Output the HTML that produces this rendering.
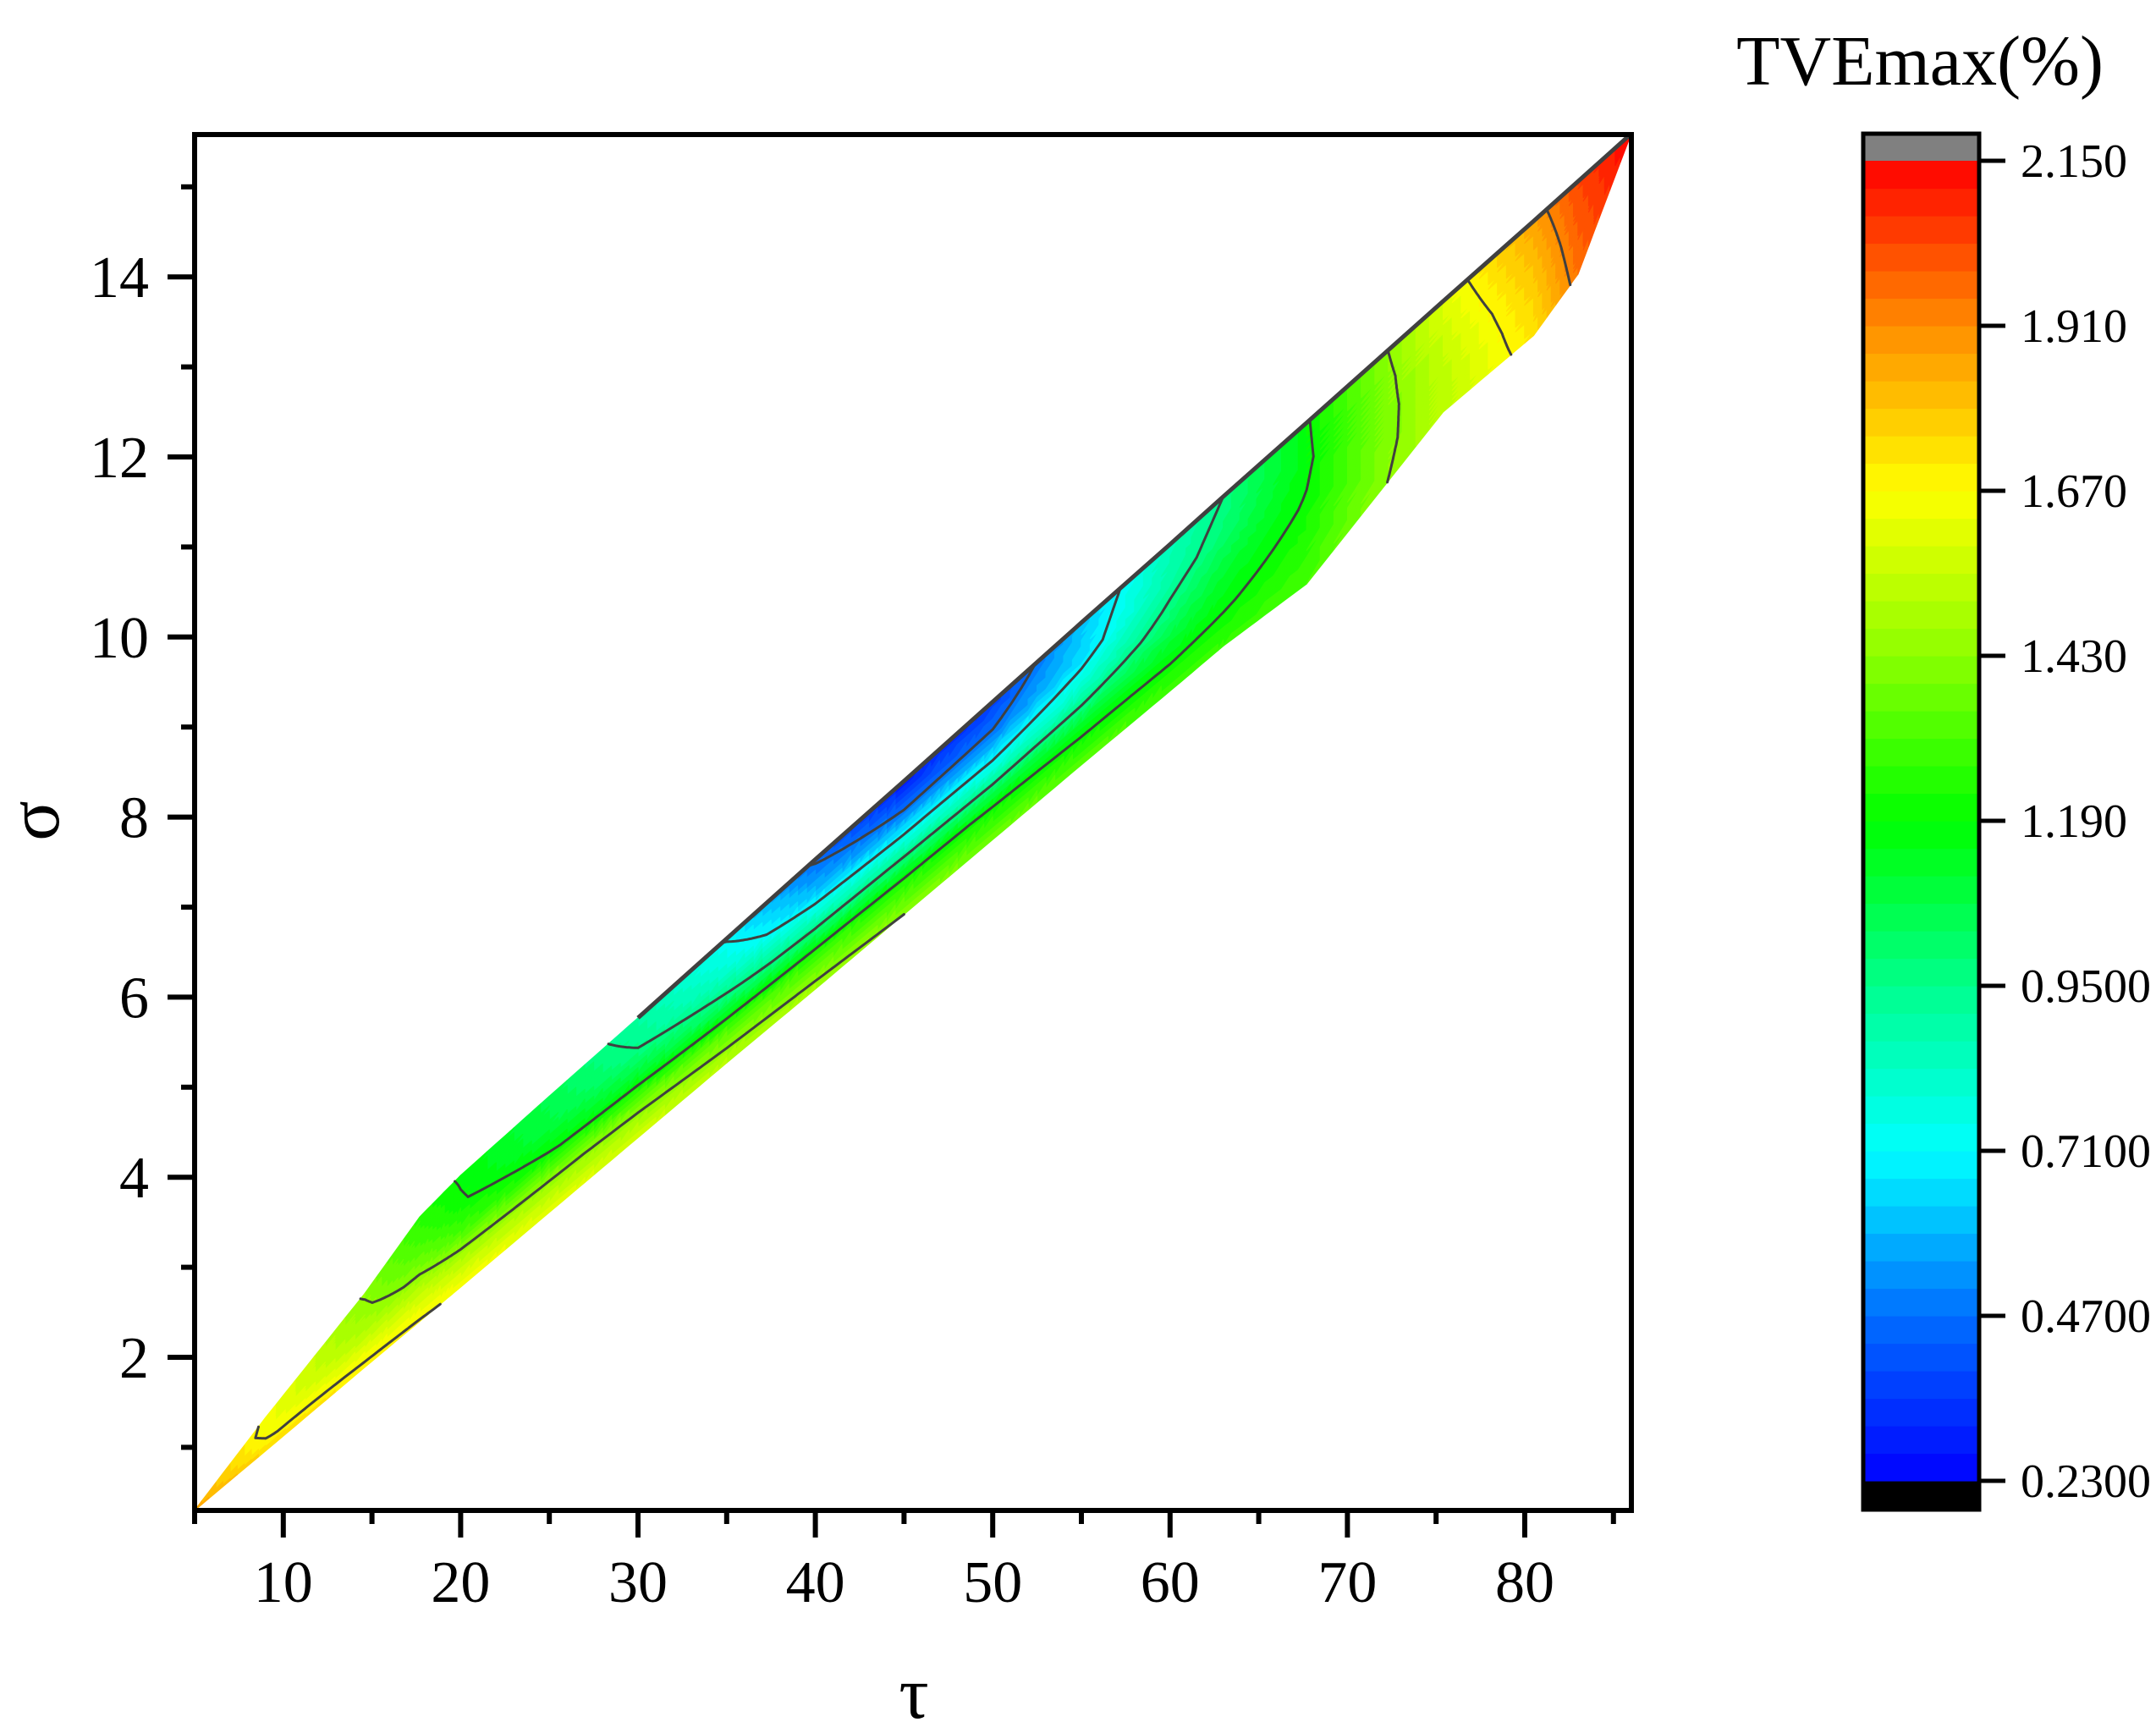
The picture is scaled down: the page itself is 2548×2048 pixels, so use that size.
<!DOCTYPE html>
<html><head><meta charset="utf-8"><style>
html,body{margin:0;padding:0;background:#fff;}
svg{display:block;font-family:"Liberation Serif",serif;}
</style></head><body>
<svg id="chart" width="2548" height="2048" viewBox="0 0 2548 2048">
<rect width="2548" height="2048" fill="#fff"/>
<g id="plot"></g>
<g id="axes"></g>
<g id="cbar"></g>
<text x="49" y="970" font-size="88" text-anchor="middle" dominant-baseline="middle" transform="rotate(-90 49 970)">σ</text>
<text x="1080" y="2030" font-size="88" text-anchor="middle">τ</text>
<text x="2486" y="100" font-size="84" text-anchor="end">TVEmax(%)</text>
</svg>
<script>
const tauSections = [5, 9, 14.6, 17.7, 20, 25, 30, 35, 40, 45, 50, 55, 60, 63, 67.7, 75.4, 80.5, 83, 86];
const sigmaLower = [0.30, 0.96, 1.89, 2.40, 2.78, 3.61, 4.44, 5.27, 6.09, 6.92, 7.75, 8.58, 9.40, 9.90, 10.59, 12.50, 13.35, 14.03, 15.59];
const sigmaUpper = [0.30, 1.33, 2.71, 3.56, 4.02, 4.90, 5.77, 6.65, 7.53, 8.40, 9.28, 10.16, 11.03, 11.56, 12.38, 13.73, 14.62, 15.06, 15.59];
const valLower = [1.85, 1.75, 1.70, 1.68, 1.66, 1.62, 1.58, 1.52, 1.48, 1.43, 1.38, 1.34, 1.30, 1.28, 1.30, 1.52, 1.72, 1.95, 2.15];
const valQ1    = [1.85, 1.68, 1.60, 1.55, 1.50, 1.45, 1.40, 1.33, 1.28, 1.22, 1.18, 1.15, 1.15, 1.18, 1.25, 1.52, 1.75, 1.97, 2.15];
const valMid   = [1.85, 1.66, 1.50, 1.40, 1.30, 1.20, 1.12, 1.00, 0.90, 0.85, 0.80, 0.85, 1.00, 1.10, 1.20, 1.54, 1.78, 1.99, 2.15];
const valQ3    = [1.85, 1.64, 1.45, 1.30, 1.20, 1.08, 0.95, 0.80, 0.60, 0.50, 0.50, 0.65, 0.90, 1.00, 1.17, 1.57, 1.82, 2.01, 2.15];
const valUpper = [1.85, 1.65, 1.42, 1.25, 1.18, 1.05, 0.90, 0.70, 0.45, 0.28, 0.35, 0.60, 0.85, 0.95, 1.18, 1.60, 1.86, 2.03, 2.15];
const contourLevels = [0.47, 0.71, 0.95, 1.19, 1.43, 1.67, 1.91];
const xTicks = [10, 20, 30, 40, 50, 60, 70, 80];
const xMinor = [5, 15, 25, 35, 45, 55, 65, 75, 85];
const yTicks = [2, 4, 6, 8, 10, 12, 14];
const yMinor = [1, 3, 5, 7, 9, 11, 13, 15];
const cbarLabels = ["0.2300", "0.4700", "0.7100", "0.9500", "1.190", "1.430", "1.670", "1.910", "2.150"];
const cbarMin = 0.23, cbarMax = 2.15, cbarStep = 0.04;

const NS = "http://www.w3.org/2000/svg";
const X = t => 230 + (t - 5) * 20.96;
const Y = s => 1604 - (s - 2) * 106.4;
const CB_TOP = 190, CB_BOT = 1750;
const CBY = v => CB_BOT - (v - cbarMin) / (cbarMax - cbarMin) * (CB_BOT - CB_TOP);

function mk(tag, attrs, parent) {
  const e = document.createElementNS(NS, tag);
  for (const k in attrs) e.setAttribute(k, attrs[k]);
  parent.appendChild(e);
  return e;
}
const stops = [[0.23,[0,0,255]],[0.47,[0,110,255]],[0.71,[0,255,255]],[0.95,[0,255,140]],[1.19,[0,255,0]],[1.43,[140,255,0]],[1.67,[255,255,0]],[1.91,[255,140,0]],[2.15,[255,0,0]]];
function cmap(v) {
  if (v <= stops[0][0]) return stops[0][1];
  for (let i = 1; i < stops.length; i++) {
    if (v <= stops[i][0]) {
      const a = stops[i-1], b = stops[i], f = (v - a[0]) / (b[0] - a[0]);
      return a[1].map((c, k) => Math.round(c + (b[1][k] - c) * f));
    }
  }
  return stops[stops.length-1][1];
}
const nBands = Math.round((cbarMax - cbarMin) / cbarStep);
function bandOf(v) { return Math.max(0, Math.min(nBands - 1, Math.floor((v - cbarMin) / cbarStep))); }
function bandColor(b) { const c = cmap(cbarMin + (b + 0.5) * cbarStep); return `rgb(${c[0]},${c[1]},${c[2]})`; }

const plot = document.getElementById('plot');
const cols = [valLower, valQ1, valMid, valQ3, valUpper];
const NJ = cols.length - 1, SU = 10, SW = 6;
const paths = {};
let contourD = "";
function pt(i, u, fAcross) {
  const t = tauSections[i] + (tauSections[i+1] - tauSections[i]) * u;
  const lo = sigmaLower[i] + (sigmaLower[i+1] - sigmaLower[i]) * u;
  const up = sigmaUpper[i] + (sigmaUpper[i+1] - sigmaUpper[i]) * u;
  return [X(t), Y(lo + (up - lo) * fAcross)];
}
function val(i, u, fAcross) {
  const jf = fAcross * NJ; let j = Math.min(NJ - 1, Math.floor(jf)); const w = jf - j;
  const a = cols[j][i] * (1 - u) + cols[j][i+1] * u;
  const b = cols[j+1][i] * (1 - u) + cols[j+1][i+1] * u;
  return a * (1 - w) + b * w;
}
function tri(p) {
  const v = (p[0][2] + p[1][2] + p[2][2]) / 3;
  const b = bandOf(v);
  paths[b] = (paths[b] || "") + `M${p[0][0].toFixed(1)},${p[0][1].toFixed(1)}L${p[1][0].toFixed(1)},${p[1][1].toFixed(1)}L${p[2][0].toFixed(1)},${p[2][1].toFixed(1)}Z`;
  for (const L of contourLevels) {
    const seg = [];
    for (let k = 0; k < 3; k++) {
      const A = p[k], B = p[(k+1)%3];
      const da = A[2] - L, db = B[2] - L;
      if ((da <= 0 && db > 0) || (da > 0 && db <= 0)) {
        const f = (L - A[2]) / (B[2] - A[2]);
        seg.push([A[0] + (B[0]-A[0])*f, A[1] + (B[1]-A[1])*f]);
      }
    }
    if (seg.length === 2) contourD += `M${seg[0][0].toFixed(1)},${seg[0][1].toFixed(1)}L${seg[1][0].toFixed(1)},${seg[1][1].toFixed(1)}`;
  }
}
for (let i = 0; i < tauSections.length - 1; i++) {
  for (let a = 0; a < SU; a++) {
    for (let c = 0; c < NJ * SW; c++) {
      const u0 = a / SU, u1 = (a + 1) / SU, f0 = c / (NJ * SW), f1 = (c + 1) / (NJ * SW);
      const P = (u, f) => { const q = pt(i, u, f); return [q[0], q[1], val(i, u, f)]; };
      const p00 = P(u0, f0), p10 = P(u1, f0), p01 = P(u0, f1), p11 = P(u1, f1);
      tri([p00, p10, p11]); tri([p00, p11, p01]);
    }
  }
}
for (const b in paths) {
  const col = bandColor(+b);
  const e = mk('path', {d: paths[b], fill: col, stroke: col, 'stroke-width': 1.2, 'stroke-linejoin': 'round'}, plot);
  
  
}
const cl = mk('path', {d: contourD, fill: 'none', stroke: '#404040', 'stroke-width': 3, 'stroke-linecap': 'round'}, plot);


let ud = "";
tauSections.forEach((t, i) => { if (t >= 30) ud += (ud ? "L" : "M") + X(t).toFixed(1) + "," + Y(sigmaUpper[i]).toFixed(1); });
const ue = mk('path', {d: ud, fill: 'none', stroke: '#404040', 'stroke-width': 5}, plot);



const ax = document.getElementById('axes');
const fr = mk('rect', {x: 230, y: 159, width: 1698, height: 1626, fill: 'none', stroke: '#000', 'stroke-width': 6}, ax);


xTicks.forEach(t => {
  const l = mk('line', {x1: X(t), x2: X(t), y1: 1785, y2: 1817, stroke: '#000', 'stroke-width': 6}, ax);
  
  
  const tx = mk('text', {x: X(t), y: 1893, 'font-size': 70, 'text-anchor': 'middle'}, ax);
  tx.textContent = t;
  
  
});
xMinor.forEach(t => {
  const l = mk('line', {x1: X(t), x2: X(t), y1: 1785, y2: 1801, stroke: '#000', 'stroke-width': 6}, ax);
  
  
});
yTicks.forEach(s => {
  const l = mk('line', {x1: 198, x2: 230, y1: Y(s), y2: Y(s), stroke: '#000', 'stroke-width': 6}, ax);
  
  
  const tx = mk('text', {x: 176, y: Y(s) + 24, 'font-size': 70, 'text-anchor': 'end'}, ax);
  tx.textContent = s;
  
  
});
yMinor.forEach(s => {
  const l = mk('line', {x1: 214, x2: 230, y1: Y(s), y2: Y(s), stroke: '#000', 'stroke-width': 6}, ax);
  
  
});

const cb = document.getElementById('cbar');
const gr = mk('rect', {x: 2202, y: 158, width: 137, height: CB_TOP - 158, fill: '#808080'}, cb);


const bk = mk('rect', {x: 2202, y: CB_BOT, width: 137, height: 1784 - CB_BOT, fill: '#000'}, cb);


for (let b = 0; b < nBands; b++) {
  const y1 = CBY(cbarMin + (b + 1) * cbarStep), y0 = CBY(cbarMin + b * cbarStep);
  const r = mk('rect', {x: 2202, y: y1, width: 137, height: y0 - y1 + 0.6, fill: bandColor(b)}, cb);
  
  
}
const cbf = mk('rect', {x: 2202, y: 158, width: 137, height: 1626, fill: 'none', stroke: '#000', 'stroke-width': 5}, cb);


cbarLabels.forEach(lab => {
  const y = CBY(parseFloat(lab));
  const l = mk('line', {x1: 2339, x2: 2370, y1: y, y2: y, stroke: '#000', 'stroke-width': 5}, cb);
  
  
  const tx = mk('text', {x: 2388, y: y + 19, 'font-size': 56}, cb);
  tx.textContent = lab;
  
  
});
</script>
</body></html>
